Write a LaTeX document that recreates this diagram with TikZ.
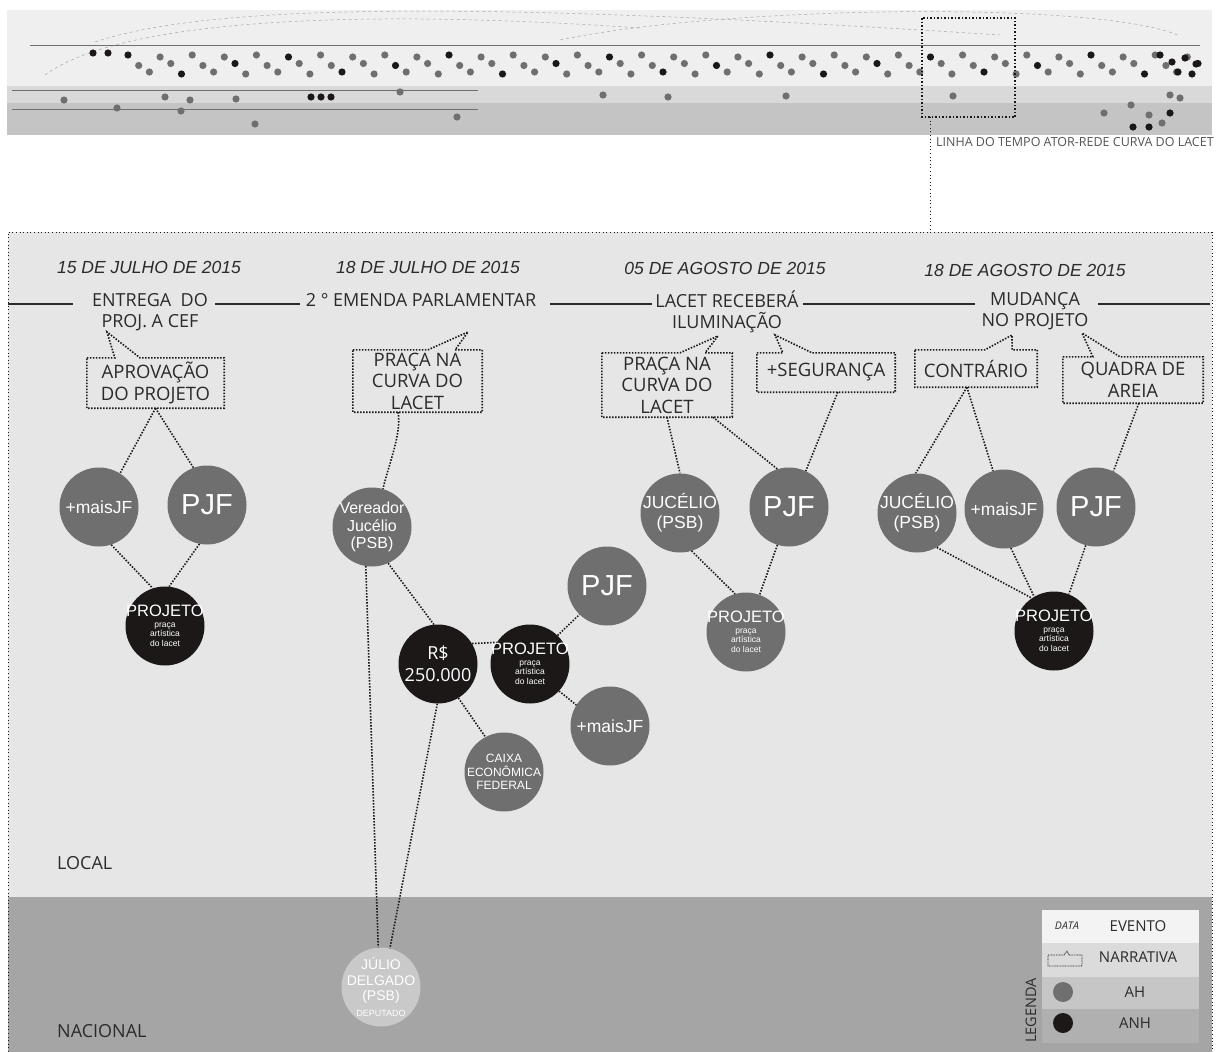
\documentclass[tikz,border=0pt]{standalone}
\usepackage{fontspec}
\setmainfont{Open Sans}
\newfontfamily\arialfont{Liberation Sans}
\usepackage{xcolor}
\usepackage{tikz}
\usetikzlibrary{calc}
\definecolor{lacetpaper}{HTML}{E6E6E6}
\definecolor{lacetnacional}{HTML}{A5A5A5}
\definecolor{lacetah}{HTML}{6F6F6F}
\definecolor{lacetanh}{HTML}{1C1818}
\definecolor{lacetdeputado}{HTML}{C9C9C9}
\definecolor{lacetink}{HTML}{2B2B2B}
\definecolor{lacetmuted}{HTML}{555555}
\definecolor{lacetminiA}{HTML}{EFEFEF}
\definecolor{lacetminiB}{HTML}{D9D9D9}
\definecolor{lacetminiC}{HTML}{C4C4C4}
\definecolor{lacetlegA}{HTML}{F3F3F3}
\definecolor{lacetlegB}{HTML}{DBDBDB}
\definecolor{lacetlegC}{HTML}{C6C6C6}
\definecolor{lacetlegD}{HTML}{B0B0B0}

\newcommand{\narrativa}[4]{%
  \draw[narrline] (#1.north west) -- ($(#1.north west)!#2!(#1.north east)$) -- (#4)
    -- ($(#1.north west)!#3!(#1.north east)$) -- (#1.north east)
    -- (#1.south east) -- (#1.south west) -- cycle;}
\newcommand{\projeto}{\parbox{56pt}{\centering
  \makebox[\linewidth]{\fontsize{16.5}{18}\selectfont PROJETO}\par\vspace{1pt}
  \arialfont\fontsize{8.5}{9.5}\selectfont praça\par artística\par do lacet\par}}

\begin{document}
\begin{tikzpicture}[x=1pt, y=-1pt,
    evento/.style={font=\fontsize{18}{21}\selectfont, text=lacetink, align=center, inner sep=0pt},
    data/.style={font=\arialfont\itshape\fontsize{17.5}{20}\selectfont, text=lacetink, inner sep=0pt},
    narr/.style={font=\fontsize{18.5}{21.5}\selectfont, text=lacetink, align=center, inner sep=0pt},
    narrline/.style={line width=1.6pt, dash pattern=on 1.5pt off 1.5pt, lacetanh},
    elo/.style={line width=1.6pt, dash pattern=on 1.5pt off 1.5pt, lacetanh},
    linha/.style={line width=1.8pt, lacetink},
    moldura/.style={line width=1pt, dash pattern=on 1pt off 2.6pt, lacetanh},
    recorte/.style={line width=1.5pt, dash pattern=on 1.5pt off 2pt, lacetanh},
    arco/.style={line width=0.5pt, dashed, black!35},
    ator/.style={circle, minimum size=79pt, inner sep=-8pt, text=white, align=center, font=\arialfont\fontsize{17.5}{20}\selectfont},
    ah/.style={ator, fill=lacetah},
    anh/.style={ator, fill=lacetanh},
    sigla/.style={font=\arialfont\fontsize{29}{30}\selectfont},
    escala/.style={font=\fontsize{18}{21}\selectfont, text=lacetink, anchor=west, inner sep=0pt},
    legtxt/.style={font=\fontsize{15}{17}\selectfont, text=lacetink, inner sep=0pt},
  ]
  \path[fill=white] (0,0) rectangle (1219,1052);
  \useasboundingbox (0,0) rectangle (1219,1052);

  % miniatura da linha do tempo
  \fill[lacetminiA] (7,10) rectangle (1212,86);
  \fill[lacetminiB] (7,86) rectangle (1212,103);
  \fill[lacetminiC] (7,103) rectangle (1212,135);
  \draw[arco] (45,75) .. controls (120,20) and (350,8) .. (640,28);
  \draw[arco] (95,42) .. controls (220,0) and (520,4) .. (1000,35);
  \draw[arco] (560,40) .. controls (720,6) and (1100,0) .. (1180,36);
  \draw[lacetah, line width=0.8pt] (30,45) -- (1200,45);
  \draw[lacetah, line width=0.6pt] (12,90) -- (478,90);
  \draw[lacetah, line width=0.6pt] (12,109) -- (478,109);
  \foreach \k in {0,...,100}{
    \pgfmathsetmacro{\xx}{128+10.7*\k}
    \pgfmathsetmacro{\yy}{55+8.5*mod(\k*7,3)+2*mod(\k,2)}
    \pgfmathtruncatemacro{\cc}{mod(\k*3,5)}
    \ifnum\cc=0 \fill[lacetanh] (\xx,\yy) circle (3.6);
    \else \fill[lacetah] (\xx,\yy) circle (3.6); \fi
  }
  \foreach \px/\py in {93/53, 108/53, 1160/55, 1172/62, 1185/58, 1196/64, 1178/72, 1192/74}
    \fill[lacetanh] (\px,\py) circle (3.6);
  \foreach \px/\py in {64/100, 117/108, 165/97, 181/111, 190/100, 236/99, 255/124, 400/92,
      457/117, 603/95, 668/97, 786/96, 953/96, 1104/113, 1131/105, 1149/115, 1162/123, 1170/95, 1180/98}
    \fill[lacetah] (\px,\py) circle (3.6);
  \foreach \px/\py in {311/97, 321/97, 331/97, 1133/127, 1149/127, 1170/113}
    \fill[lacetanh] (\px,\py) circle (3.6);
  \draw[recorte] (922,18) rectangle (1015,117);
  \coordinate (zoomA) at (930,117);
  \coordinate (zoomB) at (930,232);
  \draw[moldura] (zoomA) -- (zoomB);
  \node[font=\fontsize{12.5}{14}\selectfont, text=lacetmuted, anchor=west, inner sep=0pt] (legmini) at (936,142) {LINHA DO TEMPO ATOR-REDE CURVA DO LACET};

  % recorte ampliado
  \fill[lacetpaper] (8,232) rectangle (1212,897);
  \fill[lacetnacional] (8,897) rectangle (1212,1052);
  \draw[moldura] (8,1052) -- (8,232) -- (1212,232) -- (1212,1052);
  \node[escala] (local) at (57,863) {LOCAL};
  \node[escala] (nacional) at (57,1031) {NACIONAL};

  \node[data] (d1) at (149,267) {15 DE JULHO DE 2015};
  \node[data] (d2) at (428,267) {18 DE JULHO DE 2015};
  \node[data] (d3) at (725,268) {05 DE AGOSTO DE 2015};
  \node[data] (d4) at (1025,270) {18 DE AGOSTO DE 2015};

  \node[evento] (ev1) at (150,312) {ENTREGA\ \ DO\\PROJ. A CEF};
  \node[evento] (ev2) at (421,300) {2 ° EMENDA PARLAMENTAR};
  \node[evento] (ev3) at (727,312) {LACET RECEBERÁ\\ILUMINAÇÃO};
  \node[evento] (ev4) at (1035,311) {MUDANÇA\\NO PROJETO};
  \draw[linha] (8,304) -- (73,304);
  \draw[linha] (215,304) -- (300,304);
  \draw[linha] (550,304) -- (652,304);
  \draw[linha] (803,304) -- (975,304);
  \draw[linha] (1098,304) -- (1210,304);

  \node[narr, minimum width=137pt, minimum height=50pt] (nb1) at (155.5,383) {APROVAÇÃO\\DO PROJETO};
  \node[narr, minimum width=129pt, minimum height=62pt] (nb2) at (417.5,381) {PRAÇA NA\\CURVA DO\\LACET};
  \node[narr, minimum width=130pt, minimum height=64pt] (nb3) at (667,385) {PRAÇA NA\\CURVA DO\\LACET};
  \node[narr, minimum width=138pt, minimum height=39pt] (nseg) at (826,372.5) {+SEGURANÇA};
  \node[narr, minimum width=122pt, minimum height=37pt] (ncon) at (976,368.5) {CONTRÁRIO};
  \node[narr, minimum width=140pt, minimum height=46pt] (nqua) at (1133,380) {QUADRA DE\\AREIA};
  \coordinate (tip1) at (107,332);
  \coordinate (tip2) at (468,332);
  \coordinate (tip3) at (718,336);
  \coordinate (tip4) at (775,335);
  \coordinate (tip5) at (1012,335);
  \coordinate (tip6) at (1082,333);
  \narrativa{nb1}{0.204}{0.387}{tip1}
  \narrativa{nb2}{0.581}{0.791}{tip2}
  \narrativa{nb3}{0.6}{0.792}{tip3}
  \narrativa{nseg}{0.188}{0.399}{tip4}
  \narrativa{ncon}{0.574}{0.795}{tip5}
  \narrativa{nqua}{0.214}{0.407}{tip6}

  \node[ah] (mais1) at (99,507) {+maisJF};
  \node[ah, sigla] (pjf1) at (207,505) {PJF};
  \node[anh] (pr1) at (165,626) {\projeto};

  \node[ah, font=\arialfont\fontsize{16}{17.5}\selectfont] (ver) at (372,527) {Vereador\\Jucélio\\(PSB)};
  \node[anh, font=\fontsize{18}{22}\selectfont] (rs) at (438,664) {R\$\\250.000};
  \node[anh] (pr2) at (530,664) {\projeto};
  \node[ah, sigla] (pjf2) at (607,586) {PJF};
  \node[ah] (mais2) at (610,726) {+maisJF};
  \node[ah, font=\arialfont\fontsize{12}{13.5}\selectfont] (caixa) at (504,772) {CAIXA\\ECONÔMICA\\FEDERAL};
  \node[ator, fill=lacetdeputado, font=\arialfont\fontsize{14}{15.5}\selectfont] (jul) at (381,987) {JÚLIO\\DELGADO\\(PSB)\\{\fontsize{9}{10}\selectfont DEPUTADO}};

  \node[ah] (juc3) at (680,513) {JUCÉLIO\\(PSB)};
  \node[ah, sigla] (pjf3) at (789,507) {PJF};
  \node[ah] (pr3) at (746,632) {\projeto};

  \node[ah] (juc4) at (917,513) {JUCÉLIO\\(PSB)};
  \node[ah] (mais4) at (1004,509) {+maisJF};
  \node[ah, sigla] (pjf4) at (1096,507) {PJF};
  \node[anh] (pr4) at (1054,631) {\projeto};

  \draw[elo] (nb1.south) -- (mais1.58);
  \draw[elo] (nb1.south) -- (pjf1.110);
  \draw[elo] (mais1.-72) -- (pr1.108);
  \draw[elo] (pjf1.-101) -- (pr1.84);

  \draw[elo] (nb2.238) .. controls +(4,20) and +(6,-25) .. (ver.74);
  \draw[elo] (ver.-66) -- (rs.96);
  \draw[elo] (rs.31) -- (pr2.147);
  \draw[elo] (pr2.46) -- (pjf2.-134);
  \draw[elo] (pr2.-43) -- (mais2.148);
  \draw[elo] (rs.-59) -- (caixa.118);
  \draw[elo] (ver.-99) -- (jul.94);
  \draw[elo] (rs.-91) -- (jul.77);

  \draw[elo] (nb3.south) -- (juc3.north);
  \draw[elo] (nb3.-35) -- (pjf3.107);
  \draw[elo] (nseg.-59) -- (pjf3.65);
  \draw[elo] (juc3.-73) -- (pr3.106);
  \draw[elo] (pjf3.-107) -- (pr3.70);

  \draw[elo] (ncon.244) -- (juc4.92);
  \draw[elo] (ncon.244) -- (mais4.106);
  \draw[elo] (nqua.-76) -- (pjf4.64);
  \draw[elo] (juc4.-60) -- (pr4.124);
  \draw[elo] (mais4.-80) -- (pr4.120);
  \draw[elo] (pjf4.-105) -- (pr4.68);

  % legenda
  \fill[lacetlegA] (1042,910) rectangle (1199,943);
  \fill[lacetlegB] (1042,943) rectangle (1199,977);
  \fill[lacetlegC] (1042,977) rectangle (1199,1009);
  \fill[lacetlegD] (1042,1009) rectangle (1199,1043);
  \node[font=\itshape\fontsize{10.5}{12}\selectfont, text=lacetink, inner sep=0pt] (lgdata) at (1067,926) {DATA};
  \node[legtxt] (lgevento) at (1138,926) {EVENTO};
  \draw[lacetanh, line width=0.7pt, dash pattern=on 0.8pt off 0.8pt] (1048,955) -- (1064,955) -- (1067,951) -- (1069,955) -- (1082,955) -- (1082,966) -- (1048,966) -- cycle;
  \node[legtxt] (lgnarr) at (1138,957) {NARRATIVA};
  \node[circle, fill=lacetah, minimum size=20pt, inner sep=0pt] (lgah) at (1063,992) {};
  \node[legtxt] (lgahtxt) at (1135,992) {AH};
  \node[circle, fill=lacetanh, minimum size=20pt, inner sep=0pt] (lganh) at (1063,1023) {};
  \node[legtxt] (lganhtxt) at (1135,1023) {ANH};
  \node[legtxt, font=\fontsize{14.5}{16}\selectfont, rotate=90, anchor=west] (lgtitulo) at (1031,1043) {LEGENDA};
\end{tikzpicture}
\end{document}
